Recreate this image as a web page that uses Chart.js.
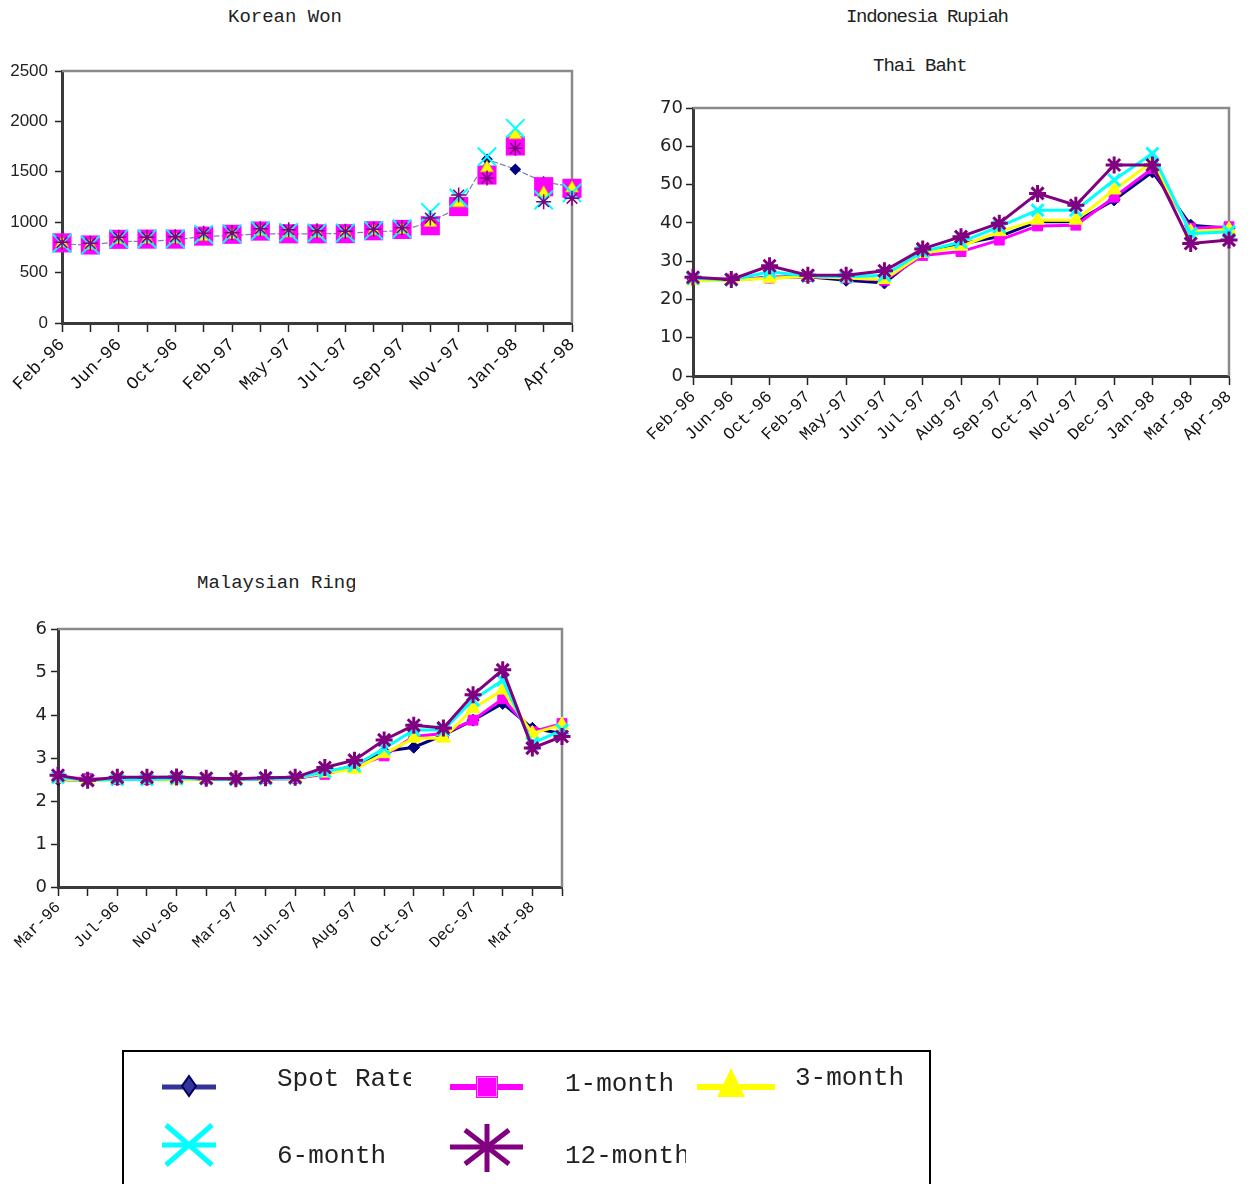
<!DOCTYPE html>
<html>
<head>
<meta charset="utf-8">
<script src="https://cdn.jsdelivr.net/npm/chart.js@4.4.1/dist/chart.umd.min.js"></script>
<style>
  body { margin: 0; background: #fff; width: 1255px; height: 1184px; position: relative; overflow: hidden; }
  canvas { position: absolute; }
  .title { position: absolute; font-family: 'Liberation Mono', monospace; font-size: 19px; line-height: 19px; color: #222; white-space: nowrap; overflow: hidden; }
  #legendBox { position: absolute; left: 122px; top: 1050px; width: 809px; height: 140px; border: 2px solid #000; box-sizing: border-box; }
  .lg { position: absolute; font-family: 'Liberation Mono', monospace; font-size: 26px; line-height: 26px; color: #222; white-space: nowrap; overflow: hidden; }
</style>
</head>
<body>
<div class="title" style="left:228px; top:8px;">Korean Won</div>
<div class="title" style="left:846px; top:8px; letter-spacing:-1.3px;">Indonesia Rupiah</div>
<div class="title" style="left:873px; top:57px; width:95px; letter-spacing:-1px;">Thai Baht</div>
<div class="title" style="left:197px; top:574px; width:158px;">Malaysian Ringgit</div>

<canvas id="koreaChart" width="610" height="380" style="left:0px; top:40px;"></canvas>
<canvas id="thaiChart" width="625" height="400" style="left:630px; top:90px;"></canvas>
<canvas id="malayChart" width="600" height="380" style="left:0px; top:610px;"></canvas>

<div id="legendBox"></div>
<canvas id="legendCanvas" width="809" height="134" style="left:122px; top:1050px;"></canvas>
<div class="lg" style="left:277px; top:1066px; width:134px;">Spot Rate</div>
<div class="lg" style="left:565px; top:1071px;">1-month</div>
<div class="lg" style="left:795px; top:1065px;">3-month</div>
<div class="lg" style="left:277px; top:1143px;">6-month</div>
<div class="lg" style="left:565px; top:1143px; width:121px;">12-month</div>

<script>
// Korean Won (won per US$)
const koreaLabels = ['Feb-96', 'Apr-96', 'Jun-96', 'Aug-96', 'Oct-96', 'Dec-96', 'Feb-97', 'Apr-97', 'May-97', 'Jun-97',
  'Jul-97', 'Aug-97', 'Sep-97', 'Oct-97', 'Nov-97', 'Dec-97', 'Jan-98', 'Mar-98', 'Apr-98'];
const koreaSpot = [785, 772, 808, 810, 825, 860, 868, 885, 883, 884, 888, 906, 915, 1005, 1141, 1624, 1525, 1400, 1352];
const korea1m = [795, 774, 830, 832, 832, 862, 880, 912, 885, 885, 886, 915, 928, 965, 1155, 1468, 1756, 1352, 1336];
const korea3m = [790, 770, 825, 828, 830, 855, 875, 905, 890, 888, 890, 912, 925, 995, 1190, 1538, 1865, 1287, 1336];
const korea6m = [790, 772, 835, 836, 838, 880, 885, 915, 900, 895, 895, 918, 935, 1098, 1240, 1650, 1931, 1220, 1290];
const korea12m = [800, 790, 850, 850, 855, 890, 895, 935, 925, 915, 910, 930, 945, 1041, 1270, 1438, 1733, 1203, 1237];

// Thai Baht (baht per US$)
const thaiLabels = ['Feb-96', 'Jun-96', 'Oct-96', 'Feb-97', 'May-97', 'Jun-97', 'Jul-97', 'Aug-97', 'Sep-97', 'Oct-97',
  'Nov-97', 'Dec-97', 'Jan-98', 'Mar-98', 'Apr-98'];
const thaiSpot = [25.3, 25.0, 25.8, 25.9, 25.0, 24.3, 32.2, 34.5, 36.4, 40.3, 40.3, 46.0, 53.3, 39.4, 38.6];
const thai1m = [25.4, 25.3, 25.6, 26.0, 25.6, 25.0, 31.5, 32.5, 35.5, 39.2, 39.4, 46.7, 54.2, 38.6, 39.0];
const thai3m = [24.9, 25.0, 25.5, 26.0, 25.6, 25.2, 32.0, 33.9, 37.7, 40.7, 40.7, 48.6, 56.0, 37.7, 38.3];
const thai6m = [25.5, 25.1, 27.2, 26.1, 25.9, 26.3, 32.5, 35.0, 39.0, 43.3, 43.3, 51.2, 58.1, 37.2, 37.7];
const thai12m = [25.8, 25.2, 28.8, 26.3, 26.3, 27.5, 33.2, 36.4, 39.9, 47.7, 44.6, 55.1, 55.1, 34.6, 35.5];

// Malaysian Ringgit (ringgit per US$)
const malayLabels = ['Mar-96', 'May-96', 'Jul-96', 'Sep-96', 'Nov-96', 'Jan-97', 'Mar-97', 'May-97', 'Jun-97', 'Jul-97',
  'Aug-97', 'Sep-97', 'Oct-97', 'Nov-97', 'Dec-97', 'Jan-98', 'Mar-98', 'Apr-98'];
const malaySpot = [2.50, 2.48, 2.52, 2.52, 2.52, 2.50, 2.50, 2.52, 2.52, 2.65, 2.82, 3.15, 3.25, 3.53, 3.88, 4.27, 3.69, 3.57];
const malay1m = [2.55, 2.52, 2.50, 2.50, 2.55, 2.52, 2.52, 2.52, 2.53, 2.62, 2.80, 3.05, 3.50, 3.57, 3.88, 4.38, 3.61, 3.80];
const malay3m = [2.52, 2.47, 2.50, 2.50, 2.48, 2.52, 2.52, 2.52, 2.53, 2.65, 2.74, 3.10, 3.46, 3.46, 4.15, 4.58, 3.57, 3.77];
const malay6m = [2.55, 2.48, 2.50, 2.50, 2.52, 2.52, 2.50, 2.52, 2.53, 2.68, 2.82, 3.22, 3.65, 3.65, 4.35, 4.81, 3.34, 3.65];
const malay12m = [2.60, 2.48, 2.55, 2.55, 2.56, 2.53, 2.52, 2.54, 2.55, 2.78, 2.95, 3.42, 3.76, 3.70, 4.47, 5.05, 3.23, 3.50];

const seriesNames = ['Spot Rate', '1-month', '3-month', '6-month', '12-month'];
const seriesColors = ['#000080', '#ff00ff', '#ffff00', '#00ffff', '#800080'];
const markerStyles = ['rectRot', 'rect', 'triangle', 'crossRot', 'star'];

// draws the grey top/right border of the plot area
const framePlugin = {
  id: 'frame',
  beforeDatasetsDraw(chart) {
    const a = chart.chartArea;
    const ctx = chart.ctx;
    ctx.save();
    ctx.strokeStyle = '#8a8a8a';
    ctx.lineWidth = 2.5;
    ctx.beginPath();
    ctx.moveTo(a.left, a.top);
    ctx.lineTo(a.right, a.top);
    ctx.lineTo(a.right, a.bottom);
    ctx.stroke();
    ctx.restore();
  }
};

function chartOptions(o) {
  return {
    responsive: false,
    animation: false,
    devicePixelRatio: 1,
    layout: { autoPadding: false, padding: { top: o.padTop, right: o.padRight, left: 0, bottom: 0 } },
    plugins: { legend: { display: false }, tooltip: { enabled: false } },
    scales: {
      x: {
        offset: false,
        border: { color: '#3a3a3a', width: 3 },
        grid: { drawOnChartArea: false, tickLength: 9, tickColor: '#222', tickWidth: 1.5 },
        ticks: {
          autoSkip: false, minRotation: 45, maxRotation: 45, padding: 2, color: '#111',
          font: { family: 'Liberation Mono', size: o.xFont },
          callback: function(value, index) {
            return (o.every === 1 || index % 2 === 0) ? this.getLabelForValue(value) : '';
          }
        },
        afterFit: s => { s.height = o.xHeight; }
      },
      y: {
        min: 0, max: o.yMax,
        border: { color: '#3a3a3a', width: 3 },
        grid: { drawOnChartArea: false, tickLength: 7, tickColor: '#222', tickWidth: 1.5 },
        ticks: { stepSize: o.step, padding: o.yPad, color: '#222', font: { family: o.yFamily, size: o.yFont },
          callback: v => String(v) },
        afterFit: s => { s.width = o.yWidth; }
      }
    }
  };
}

function lineSets(values) {
  const radii = [6, 7, 8, 8.5, 8.5];
  return values.map((data, i) => ({
    label: seriesNames[i],
    data: data,
    borderColor: seriesColors[i],
    backgroundColor: seriesColors[i],
    borderWidth: 3,
    pointStyle: markerStyles[i],
    pointRadius: radii[i],
    pointBorderWidth: i >= 3 ? 3 : 1,
    pointBackgroundColor: seriesColors[i],
    pointBorderColor: seriesColors[i],
    tension: 0,
    clip: false,
    order: 5 - i
  }));
}

// Korean chart: only the spot rate has a (thin) line, the rest are markers
const koreaSets = [
  { label: seriesNames[0], data: koreaSpot, borderColor: '#7c7cb8', borderWidth: 1.2, borderDash: [6, 2],
    pointStyle: 'rectRot', pointRadius: 5, pointBackgroundColor: '#000080', pointBorderColor: '#000080', order: 5 },
  { label: seriesNames[1], data: korea1m, showLine: false, pointStyle: 'rect', pointRadius: 13.5,
    pointBackgroundColor: '#ff00ff', pointBorderColor: '#ff00ff', pointBorderWidth: 0, order: 4 },
  { label: seriesNames[2], data: korea3m, showLine: false, pointStyle: 'triangle', pointRadius: 7.5,
    pointBackgroundColor: '#ffff00', pointBorderColor: '#e0b000', pointBorderWidth: 0.8, order: 3 },
  { label: seriesNames[3], data: korea6m, showLine: false, pointStyle: 'crossRot', pointRadius: 13,
    pointBorderColor: '#00ffff', pointBorderWidth: 2, order: 2 },
  { label: seriesNames[4], data: korea12m, showLine: false, pointStyle: 'star', pointRadius: 7.5,
    pointBorderColor: '#800080', pointBorderWidth: 1.5, order: 1 }
].map(d => Object.assign({ clip: false, tension: 0 }, d));

new Chart(document.getElementById('koreaChart'), {
  type: 'line',
  data: { labels: koreaLabels, datasets: koreaSets },
  options: chartOptions({ padTop: 31, padRight: 38, xHeight: 97, yWidth: 62, yMax: 2500, step: 500,
    yPad: 7, yFamily: 'Liberation Sans', yFont: 17, xFont: 18, every: 2 }),
  plugins: [framePlugin]
});

new Chart(document.getElementById('thaiChart'), {
  type: 'line',
  data: { labels: thaiLabels, datasets: lineSets([thaiSpot, thai1m, thai3m, thai6m, thai12m]) },
  options: chartOptions({ padTop: 18, padRight: 26, xHeight: 114, yWidth: 63, yMax: 70, step: 10,
    yPad: 3, yFamily: 'DejaVu Sans', yFont: 18, xFont: 17, every: 1 }),
  plugins: [framePlugin]
});

new Chart(document.getElementById('malayChart'), {
  type: 'line',
  data: { labels: malayLabels, datasets: lineSets([malaySpot, malay1m, malay3m, malay6m, malay12m]) },
  options: chartOptions({ padTop: 19, padRight: 38, xHeight: 103, yWidth: 58, yMax: 6, step: 1,
    yPad: 4, yFamily: 'DejaVu Sans', yFont: 18, xFont: 16, every: 2 }),
  plugins: [framePlugin]
});

// Legend symbols
function drawLegend() {
  const ctx = document.getElementById('legendCanvas').getContext('2d');
  ctx.lineCap = 'butt';

  function hline(x1, x2, y, color, w) {
    ctx.strokeStyle = color;
    ctx.lineWidth = w;
    ctx.beginPath();
    ctx.moveTo(x1, y);
    ctx.lineTo(x2, y);
    ctx.stroke();
  }
  function seg(x1, y1, x2, y2) {
    ctx.beginPath();
    ctx.moveTo(x1, y1);
    ctx.lineTo(x2, y2);
    ctx.stroke();
  }

  // Spot Rate
  hline(40, 94, 37, '#333399', 5);
  ctx.fillStyle = '#333399';
  ctx.strokeStyle = '#000066';
  ctx.lineWidth = 2;
  ctx.beginPath();
  ctx.moveTo(67, 26); ctx.lineTo(74, 36); ctx.lineTo(67, 46); ctx.lineTo(60, 36); ctx.closePath();
  ctx.fill(); ctx.stroke();

  // 1-month
  hline(328, 401, 37, '#ff00ff', 6);
  ctx.fillStyle = '#ff00ff';
  ctx.fillRect(354, 26, 22, 22);
  ctx.strokeStyle = '#ff99ff';
  ctx.lineWidth = 1;
  ctx.strokeRect(355.5, 27.5, 19, 19);

  // 3-month
  hline(575, 653, 37, '#ffff00', 6);
  ctx.fillStyle = '#ffff00';
  ctx.beginPath();
  ctx.moveTo(609, 18); ctx.lineTo(623, 47); ctx.lineTo(595, 47); ctx.closePath();
  ctx.fill();

  // 6-month
  hline(40, 94, 95, '#00ffff', 5);
  ctx.strokeStyle = '#00ffff';
  ctx.lineWidth = 5;
  seg(44, 75, 90, 115);
  seg(44, 115, 90, 75);

  // 12-month
  hline(328, 401, 97, '#800080', 5);
  ctx.strokeStyle = '#800080';
  ctx.lineWidth = 5;
  seg(365, 74, 365, 122);
  seg(343, 80, 387, 114);
  seg(343, 114, 387, 80);
}
drawLegend();
</script>
</body>
</html>
